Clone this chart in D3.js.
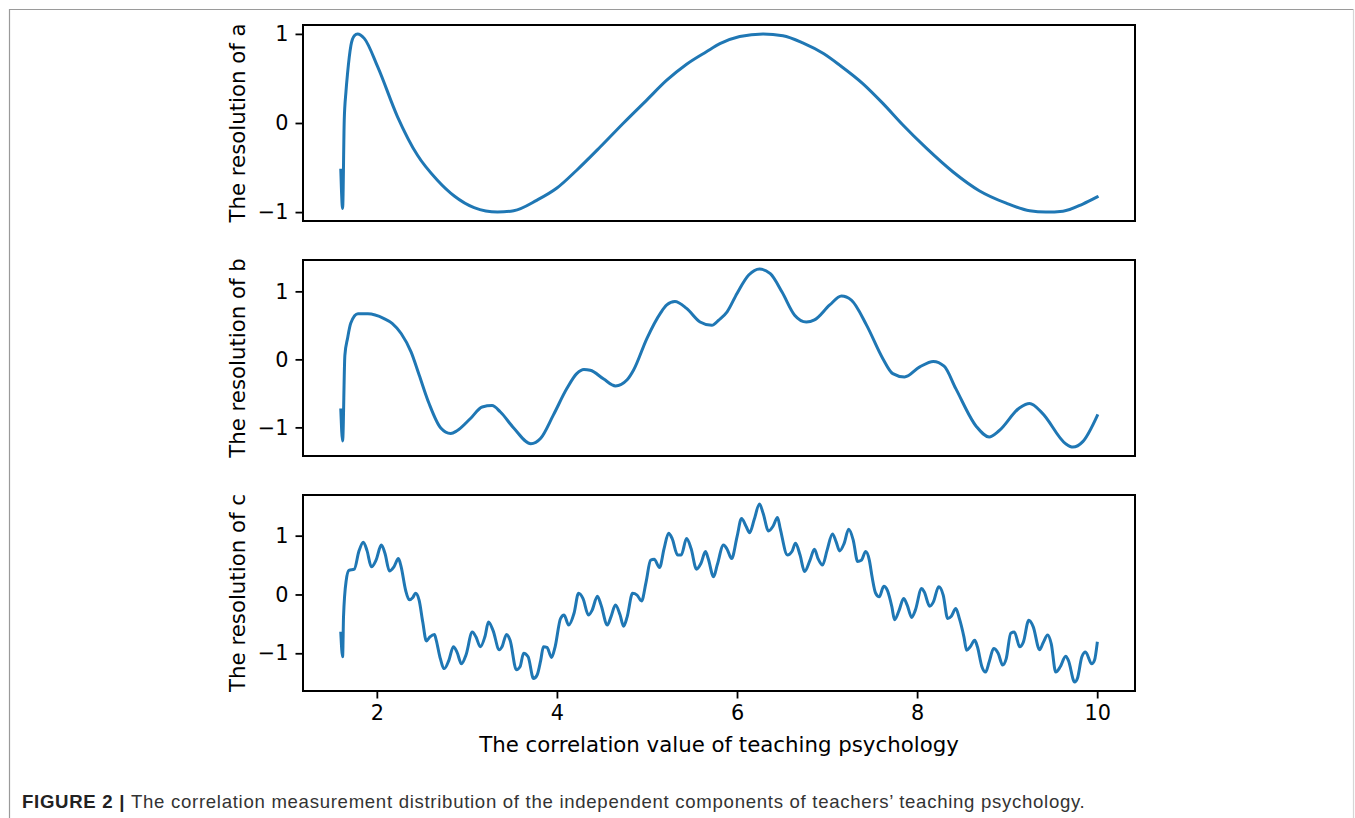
<!DOCTYPE html>
<html>
<head>
<meta charset="utf-8">
<script src="https://cdn.jsdelivr.net/npm/d3@7"></script>
<style>
  body { margin: 0; background: #fff; }
  text { font-family: "DejaVu Sans", sans-serif; }
</style>
</head>
<body>
<div id="container"></div>
<script>
// panel a
const xA = [1.60, 1.62, 1.638, 1.657, 1.675, 1.712, 1.75, 1.786, 1.86, 2.01, 2.23, 2.45, 2.67, 2.86, 3.08, 3.34, 3.52, 3.78, 4.00, 4.22, 4.48, 4.74, 5.00, 5.22, 5.44, 5.66, 5.81, 6.03, 6.29, 6.51, 6.73, 6.96, 7.14, 7.40, 7.62, 7.84, 8.10, 8.40, 8.69, 8.99, 9.25, 9.43, 9.62, 9.84, 10.0];
const yA = [-0.53, -0.96, 0.03, 0.35, 0.56, 0.87, 0.98, 1.0, 0.95, 0.63, 0.07, -0.36, -0.64, -0.82, -0.95, -1.0, -0.985, -0.865, -0.73, -0.53, -0.27, 0.0, 0.26, 0.48, 0.66, 0.80, 0.89, 0.97, 1.0, 0.98, 0.90, 0.78, 0.65, 0.44, 0.22, -0.02, -0.28, -0.55, -0.76, -0.90, -0.985, -1.0, -0.99, -0.91, -0.83];

// panel b
const xB = [1.60, 1.62, 1.645, 1.675, 1.71, 1.79, 1.90, 2.08, 2.17, 2.27, 2.38, 2.47, 2.58, 2.71, 2.82, 2.89, 3.04, 3.17, 3.28, 3.37, 3.52, 3.71, 3.82, 3.96, 4.11, 4.22, 4.30, 4.37, 4.52, 4.65, 4.78, 4.85, 5.00, 5.15, 5.22, 5.31, 5.44, 5.59, 5.72, 5.80, 5.89, 6.00, 6.13, 6.25, 6.37, 6.50, 6.64, 6.77, 6.86, 7.03, 7.16, 7.27, 7.44, 7.62, 7.73, 7.86, 8.03, 8.18, 8.30, 8.43, 8.66, 8.80, 8.91, 9.14, 9.25, 9.39, 9.65, 9.73, 9.84, 10.0];
const yB = [-0.745, -1.20, 0.06, 0.31, 0.53, 0.67, 0.67, 0.60, 0.53, 0.38, 0.11, -0.23, -0.65, -1.01, -1.09, -1.05, -0.87, -0.70, -0.68, -0.77, -1.01, -1.24, -1.16, -0.82, -0.43, -0.21, -0.15, -0.16, -0.29, -0.39, -0.30, -0.16, 0.31, 0.68, 0.80, 0.85, 0.75, 0.55, 0.50, 0.58, 0.70, 0.97, 1.24, 1.33, 1.26, 0.99, 0.65, 0.55, 0.58, 0.80, 0.93, 0.87, 0.50, 0.01, -0.21, -0.26, -0.11, -0.03, -0.10, -0.43, -0.99, -1.14, -1.05, -0.71, -0.65, -0.79, -1.24, -1.29, -1.21, -0.83];

// panel c
const xC = [1.60, 1.62, 1.63, 1.66, 1.69, 1.75, 1.80, 1.85, 1.89, 1.94, 1.99, 2.05, 2.09, 2.14, 2.19, 2.24, 2.27, 2.32, 2.36, 2.40, 2.43, 2.47, 2.51, 2.55, 2.59, 2.64, 2.66, 2.70, 2.75, 2.80, 2.85, 2.89, 2.94, 2.99, 3.06, 3.10, 3.15, 3.20, 3.24, 3.29, 3.36, 3.39, 3.44, 3.48, 3.55, 3.59, 3.63, 3.68, 3.74, 3.78, 3.82, 3.85, 3.89, 3.94, 3.98, 4.04, 4.08, 4.13, 4.19, 4.24, 4.29, 4.35, 4.39, 4.45, 4.49, 4.56, 4.60, 4.65, 4.70, 4.74, 4.78, 4.84, 4.89, 4.94, 4.99, 5.04, 5.08, 5.14, 5.19, 5.24, 5.28, 5.34, 5.38, 5.44, 5.49, 5.55, 5.60, 5.65, 5.68, 5.74, 5.78, 5.85, 5.89, 5.94, 6.00, 6.05, 6.10, 6.14, 6.19, 6.25, 6.29, 6.35, 6.40, 6.45, 6.48, 6.56, 6.61, 6.65, 6.70, 6.75, 6.81, 6.86, 6.90, 6.95, 7.00, 7.06, 7.10, 7.14, 7.19, 7.24, 7.29, 7.34, 7.38, 7.43, 7.47, 7.50, 7.54, 7.58, 7.63, 7.67, 7.72, 7.75, 7.80, 7.85, 7.89, 7.94, 7.98, 8.05, 8.08, 8.14, 8.18, 8.24, 8.29, 8.34, 8.38, 8.43, 8.47, 8.52, 8.55, 8.59, 8.64, 8.67, 8.72, 8.76, 8.80, 8.85, 8.90, 8.95, 8.99, 9.04, 9.08, 9.14, 9.18, 9.24, 9.29, 9.36, 9.40, 9.45, 9.49, 9.54, 9.59, 9.65, 9.68, 9.75, 9.78, 9.83, 9.87, 9.94, 9.97, 10.0];
const yC = [-0.66, -1.06, -0.38, 0.24, 0.41, 0.43, 0.73, 0.89, 0.75, 0.47, 0.58, 0.84, 0.70, 0.40, 0.47, 0.61, 0.47, 0.07, -0.09, -0.05, 0.02, -0.10, -0.47, -0.79, -0.72, -0.68, -0.78, -1.06, -1.26, -1.12, -0.89, -0.98, -1.18, -1.03, -0.64, -0.72, -0.89, -0.72, -0.47, -0.61, -0.94, -0.89, -0.68, -0.78, -1.28, -1.23, -1.00, -1.06, -1.43, -1.37, -1.12, -0.89, -0.90, -1.07, -0.89, -0.41, -0.35, -0.52, -0.32, 0.02, -0.07, -0.35, -0.27, -0.03, -0.18, -0.52, -0.38, -0.18, -0.34, -0.54, -0.38, 0.02, -0.01, -0.11, 0.21, 0.58, 0.60, 0.46, 0.78, 1.04, 0.95, 0.67, 0.67, 0.95, 0.78, 0.43, 0.53, 0.73, 0.61, 0.30, 0.50, 0.84, 0.77, 0.61, 0.98, 1.29, 1.16, 1.05, 1.27, 1.54, 1.38, 1.08, 1.16, 1.31, 1.12, 0.67, 0.73, 0.87, 0.67, 0.39, 0.58, 0.77, 0.61, 0.50, 0.75, 1.03, 0.90, 0.74, 0.87, 1.11, 0.93, 0.56, 0.58, 0.73, 0.58, 0.30, 0.02, -0.04, 0.14, 0.07, -0.21, -0.43, -0.27, -0.07, -0.18, -0.39, -0.27, 0.10, 0.04, -0.20, -0.13, 0.13, -0.01, -0.41, -0.37, -0.24, -0.41, -0.72, -0.95, -0.89, -0.78, -0.89, -1.23, -1.32, -1.15, -0.92, -1.00, -1.20, -1.09, -0.66, -0.64, -0.89, -0.81, -0.44, -0.55, -0.94, -0.82, -0.69, -0.84, -1.32, -1.23, -1.05, -1.12, -1.49, -1.43, -1.06, -0.98, -1.18, -1.12, -0.83];

const yLabels = ['The resolution of a', 'The resolution of b', 'The resolution of c'];
const yTicks = [-1, 0, 1];
const xTicks = [2, 4, 6, 8, 10];
const xLabel = 'The correlation value of teaching psychology';
const captionBold = 'FIGURE 2 | ';
const captionText = 'The correlation measurement distribution of the independent components of teachers\u2019 teaching psychology.';

const W = 1355, H = 818;
const left = 303, plotW = 832, plotH = 196;
const tops = [25, 260, 495];
const tickFs = 20.8;
const labelFs = 21.3;

const svg = d3.select('#container').append('svg')
  .attr('width', W)
  .attr('height', H);

// outer figure frame
svg.append('path')
  .attr('d', `M9.5,${H + 2}V9.5H1353.5`)
  .attr('fill', 'none')
  .attr('stroke', '#9a9a9a')
  .attr('stroke-width', 1.2);
svg.append('path')
  .attr('d', `M1353.5,9.5V${H + 2}`)
  .attr('fill', 'none')
  .attr('stroke', '#d6d6d6')
  .attr('stroke-width', 1.2);

const x = d3.scaleLinear().domain(padded([1.6, 10])).range([left, left + plotW]);

function padded(ext) {
  const p = (ext[1] - ext[0]) * 0.05;
  return [ext[0] - p, ext[1] + p];
}

const panels = [[xA, yA], [xB, yB], [xC, yC]];

panels.forEach(([xs, ys], i) => {
  const top = tops[i];
  const y = d3.scaleLinear().domain(padded(d3.extent(ys))).range([top + plotH, top]);
  const g = svg.append('g');

  const line = d3.line()
    .x((d) => x(d[0]))
    .y((d) => y(d[1]))
    .curve(d3.curveMonotoneX);

  g.append('path')
    .datum(xs.map((v, k) => [v, ys[k]]))
    .attr('d', line)
    .attr('fill', 'none')
    .attr('stroke', '#1f77b4')
    .attr('stroke-width', 3)
    .attr('stroke-linejoin', 'round')
    .attr('stroke-linecap', 'square');

  const yAxis = g.append('g')
    .attr('transform', `translate(${left}, 0)`)
    .call(d3.axisLeft(y).tickValues(yTicks).tickSize(7.5).tickPadding(7)
      .tickFormat((d) => d < 0 ? '\u2212' + Math.abs(d) : d));
  yAxis.select('.domain').remove();
  yAxis.selectAll('line').attr('stroke', '#000').attr('stroke-width', 1.8);
  yAxis.selectAll('text').attr('font-size', tickFs).attr('font-family', 'DejaVu Sans').attr('fill', '#000');

  if (i === 2) {
    const xAxis = g.append('g')
      .attr('transform', `translate(0, ${top + plotH})`)
      .call(d3.axisBottom(x).tickValues(xTicks).tickSize(7.5).tickPadding(7));
    xAxis.select('.domain').remove();
    xAxis.selectAll('line').attr('stroke', '#000').attr('stroke-width', 1.8);
    xAxis.selectAll('text').attr('font-size', tickFs).attr('font-family', 'DejaVu Sans').attr('fill', '#000');
  }

  g.append('rect')
    .attr('x', left)
    .attr('y', top)
    .attr('width', plotW)
    .attr('height', plotH)
    .attr('fill', 'none')
    .attr('stroke', '#000')
    .attr('stroke-width', 2);

  g.append('text')
    .attr('transform', `translate(237, ${top + plotH / 2}) rotate(-90)`)
    .attr('text-anchor', 'middle')
    .attr('dominant-baseline', 'central')
    .attr('font-size', labelFs)
    .text(yLabels[i]);
});

svg.append('text')
  .attr('x', left + plotW / 2)
  .attr('y', 744)
  .attr('text-anchor', 'middle')
  .attr('dominant-baseline', 'central')
  .attr('font-size', labelFs)
  .text(xLabel);

const cap = svg.append('text')
  .attr('x', 22)
  .attr('y', 807.5)
  .style('font-family', '"Liberation Sans", Arial, sans-serif')
  .style('letter-spacing', '0.7px')
  .attr('font-size', 18.6);
cap.append('tspan').attr('font-weight', 'bold').attr('fill', '#222').text(captionBold);
cap.append('tspan').attr('fill', '#333').text(captionText);
</script>
</body>
</html>
